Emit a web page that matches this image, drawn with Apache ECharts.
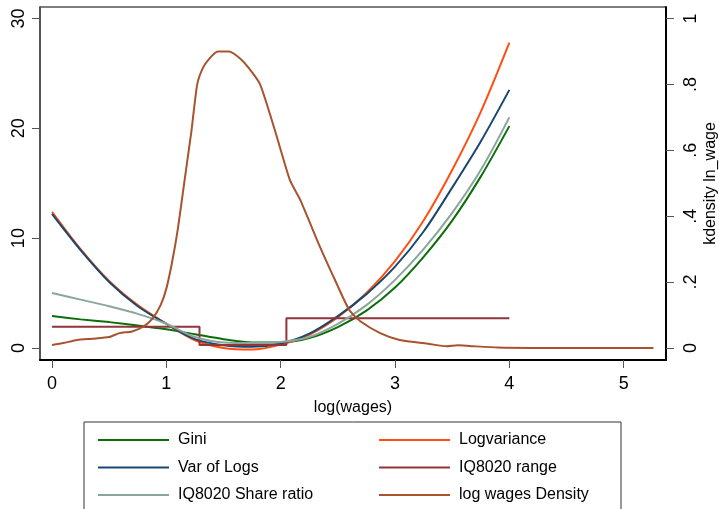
<!DOCTYPE html>
<html>
<head>
    <meta charset="utf-8">
    <title>Inequality measures and log wages density</title>
    <script src="https://cdn.jsdelivr.net/npm/echarts@6.0.0/dist/echarts.min.js"></script>
</head>
<body style="margin:0">
    <div id="main" style="width: 719px;height:509px;"></div>

    <script type="text/javascript">
        // x grid of the measure curves
        var xs = [0, 0.25, 0.5, 0.75, 1.0, 1.25, 1.5, 1.75, 2.0, 2.25, 2.5, 2.75, 3.0, 3.25, 3.5, 3.75, 4.0];
        var gini        = [2.9, 2.6, 2.35, 2.05, 1.7, 1.25, 0.8, 0.5, 0.5, 0.9, 1.9, 3.4, 5.5, 8.3, 11.6, 15.6, 20.2];
        var logvariance = [12.4, 9.0, 6.1, 3.9, 2.2, 0.7, 0.0, -0.15, 0.3, 1.2, 2.8, 5.0, 7.9, 11.6, 16.2, 21.5, 27.8];
        var varOfLogs   = [12.2, 8.9, 6.0, 3.8, 2.2, 0.8, 0.25, 0.1, 0.4, 1.3, 2.9, 4.9, 7.4, 10.6, 14.6, 18.8, 23.5];
        var shareRatio  = [5.0, 4.4, 3.8, 3.1, 2.2, 1.0, 0.5, 0.45, 0.55, 1.0, 2.2, 3.9, 6.2, 9.0, 12.3, 16.2, 21.0];

        // IQ8020 range is a step function
        var rangeX = [0, 1.29, 1.29, 2.05, 2.05, 4.0];
        var rangeY = [1.93, 1.93, 0.27, 0.27, 2.7, 2.7];

        // kernel density of log wages (right axis)
        var densX = [0, 0.1, 0.22, 0.35, 0.5, 0.59, 0.7, 0.8, 0.88, 0.95, 1.0, 1.05, 1.1, 1.16, 1.22, 1.27, 1.32, 1.38, 1.45, 1.55, 1.64, 1.72, 1.82, 1.95, 2.08, 2.17, 2.34, 2.47, 2.6, 2.7, 2.87, 3.04, 3.3, 3.45, 3.55, 3.65, 3.9, 4.2, 4.6, 5.0, 5.26];
        var densY = [0.009, 0.015, 0.024, 0.028, 0.033, 0.045, 0.05, 0.065, 0.09, 0.13, 0.18, 0.26, 0.36, 0.51, 0.66, 0.8, 0.85, 0.88, 0.9, 0.9, 0.88, 0.85, 0.8, 0.66, 0.51, 0.45, 0.31, 0.21, 0.115, 0.08, 0.045, 0.024, 0.012, 0.005, 0.008, 0.006, 0.001, 0, 0, 0, 0];

        var xTicks = [0, 1, 2, 3, 4, 5];
        var yTicks = [0, 10, 20, 30];
        var densTicks = [0, 0.2, 0.4, 0.6, 0.8, 1];

        var legendLeft = ['Gini', 'Var of Logs', 'IQ8020 Share ratio'];
        var legendRight = ['Logvariance', 'IQ8020 range', 'log wages Density'];

        function pairs(x, y) {
            return x.map(function (v, i) { return [v, y[i]]; });
        }

        var myChart = echarts.init(document.getElementById('main'));

        var yMin = -1.1, yMax = 31.05;
        var font = 'Liberation Sans, Arial, sans-serif';

        function line(name, color, data, axis, smooth) {
            return {
                name: name,
                type: 'line',
                yAxisIndex: axis || 0,
                data: data,
                showSymbol: false,
                smooth: smooth || false,
                lineStyle: { color: color, width: 2 },
                itemStyle: { color: color },
                animation: false
            };
        }

        function legend(data, left) {
            return {
                data: data,
                orient: 'vertical',
                left: left,
                top: 425,
                height: 120,
                icon: 'rect',
                itemWidth: 71,
                itemHeight: 2,
                itemGap: 7.5,
                textStyle: {
                    fontFamily: font, fontSize: 16, color: '#000',
                    lineHeight: 20, padding: [0, 0, 0, 4]
                }
            };
        }

        var option = {
            backgroundColor: '#fff',
            grid: {
                left: 40, top: 7, right: 53, bottom: 149,
                outerBoundsMode: 'none',
                show: true, borderColor: '#000', borderWidth: 1
            },
            legend: [legend(legendLeft, 93), legend(legendRight, 374)],
            graphic: [{
                type: 'rect',
                shape: { x: 84, y: 422, width: 537, height: 100 },
                style: { fill: 'none', stroke: '#333', lineWidth: 1 },
                silent: true
            }],
            xAxis: {
                type: 'value',
                min: -0.105,
                max: 5.37,
                name: 'log(wages)',
                nameLocation: 'middle',
                nameGap: 40,
                nameTextStyle: { fontFamily: font, fontSize: 16, color: '#000' },
                splitLine: { show: false },
                axisLine: { show: true, onZero: false, lineStyle: { color: '#000', width: 2 } },
                axisTick: { show: true, length: 8, customValues: xTicks, lineStyle: { color: '#555' } },
                axisLabel: { customValues: xTicks, fontFamily: font, fontSize: 18, color: '#000', margin: 15 }
            },
            yAxis: [{
                type: 'value',
                min: yMin,
                max: yMax,
                position: 'left',
                splitLine: { show: false },
                axisLine: { show: true, onZero: false, lineStyle: { color: '#555', width: 2 } },
                axisTick: { show: true, length: 8, customValues: yTicks, lineStyle: { color: '#555' } },
                axisLabel: { customValues: yTicks, rotate: 90, fontFamily: font, fontSize: 18, color: '#000', margin: 12 }
            }, {
                type: 'value',
                min: yMin / 30,
                max: yMax / 30,
                position: 'right',
                name: 'kdensity ln_wage',
                nameLocation: 'middle',
                nameRotate: 90,
                nameGap: 37,
                nameMoveOverlap: false,
                nameTextStyle: { fontFamily: font, fontSize: 16, color: '#000' },
                splitLine: { show: false },
                axisLine: { show: true, onZero: false, lineStyle: { color: '#000', width: 2 } },
                axisTick: { show: true, length: 8, customValues: densTicks, lineStyle: { color: '#555' } },
                axisLabel: {
                    customValues: densTicks, rotate: 90, fontFamily: font, fontSize: 18, color: '#000', margin: 16,
                    formatter: function (v) {
                        if (v === 0) return '0';
                        if (v === 1) return '1';
                        return String(Math.round(v * 10) / 10).replace(/^0/, '');
                    }
                }
            }],
            series: [
                line('Gini', '#0b6e0b', pairs(xs, gini), 0, 0.3),
                line('Logvariance', '#ff4f12', pairs(xs, logvariance), 0, 0.3),
                line('Var of Logs', '#1a476f', pairs(xs, varOfLogs), 0, 0.3),
                line('IQ8020 range', '#90353b', pairs(rangeX, rangeY)),
                line('IQ8020 Share ratio', '#8aa69c', pairs(xs, shareRatio), 0, 0.3),
                line('log wages Density', '#a8532d', pairs(densX, densY), 1, 0.2)
            ]
        };

        myChart.setOption(option);
    </script>
</body>
</html>
